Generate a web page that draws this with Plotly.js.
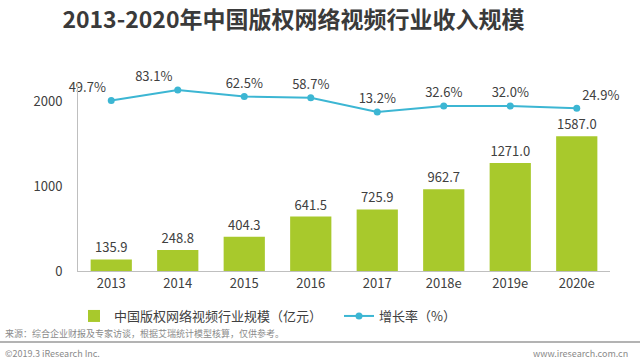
<!DOCTYPE html>
<html>
<head>
<meta charset="utf-8">
<script src="https://cdn.plot.ly/plotly-3.0.1.min.js"></script>
<style>html,body{margin:0;padding:0;background:#fff;}#chart{width:640px;height:363px;}</style>
</head>
<body>
<div id="chart"></div>
<script>
const categories = ['2013', '2014', '2015', '2016', '2017', '2018e', '2019e', '2020e'];
const revenue = [135.9, 248.8, 404.3, 641.5, 725.9, 962.7, 1271.0, 1587.0];
const growth = [49.7, 83.1, 62.5, 58.7, 13.2, 32.6, 32.0, 24.9];
const growthLabelPos = ['top left', 'top left', 'top center', 'top center', 'top center', 'top center', 'top center', 'top right'];

const FONT = '"Noto Sans CJK SC", "Noto Sans", sans-serif';
const TXT = '#404040';

const traces = [
  {
    type: 'bar',
    name: '中国版权网络视频行业规模（亿元）',
    x: categories,
    y: revenue,
    marker: {color: '#a8c92c'},
    text: revenue.map(v => v.toFixed(1)),
    textposition: 'outside',
    cliponaxis: false,
    textfont: {family: FONT, size: 13, color: TXT},
    hoverinfo: 'x+y'
  },
  {
    type: 'scatter',
    mode: 'lines+markers+text',
    name: '增长率（%）',
    x: categories,
    y: growth,
    yaxis: 'y2',
    line: {color: '#3cb6d3', width: 2},
    marker: {color: '#3cb6d3', size: 7},
    text: growth.map(v => v.toFixed(1) + '%'),
    textposition: growthLabelPos,
    cliponaxis: false,
    textfont: {family: FONT, size: 13, color: TXT}
  }
];

const layout = {
  width: 640,
  height: 363,
  margin: {l: 78, r: 30, t: 83, b: 92},
  paper_bgcolor: '#ffffff',
  plot_bgcolor: '#ffffff',
  font: {family: FONT, size: 13, color: TXT},
  showlegend: true,
  bargap: 0.38,
  title: {
    text: '<b>2013-2020年中国版权网络视频行业收入规模</b>',
    font: {family: FONT, size: 23, color: '#3a3a3a'},
    x: 0.405, xanchor: 'center', xref: 'paper',
    y: 1 - 20 / 363, yanchor: 'middle', yref: 'container'
  },
  xaxis: {
    type: 'category',
    showline: true, linecolor: '#bfbfbf', linewidth: 1,
    showgrid: false, zeroline: false,
    ticks: '',
    tickfont: {family: FONT, size: 13, color: TXT}
  },
  yaxis: {
    range: [0, 2215],
    tickvals: [0, 1000, 2000],
    showline: true, linecolor: '#bfbfbf', linewidth: 1,
    showgrid: false, zeroline: false,
    ticks: '',
    ticklabelstandoff: 12,
    tickfont: {family: FONT, size: 13, color: TXT}
  },
  yaxis2: {
    overlaying: 'y',
    side: 'right',
    range: [-492, 105.3],
    visible: false,
    showgrid: false, zeroline: false
  },
  legend: {
    orientation: 'h',
    xref: 'container', yref: 'container',
    x: 74 / 640, xanchor: 'left',
    y: 1 - 301 / 363, yanchor: 'top',
    entrywidth: 220, entrywidthmode: 'pixels',
    itemwidth: 30,
    font: {family: FONT, size: 13, color: TXT},
    bgcolor: 'rgba(0,0,0,0)'
  },
  shapes: [
    {type: 'line', xref: 'paper', yref: 'paper', x0: -78 / 532, x1: 1 + 30 / 532,
     y0: -(342 - 271) / 188, y1: -(342 - 271) / 188,
     line: {color: '#9a9a9a', width: 1.5}}
  ],
  annotations: [
    {text: '来源：综合企业财报及专家访谈，根据艾瑞统计模型核算，仅供参考。', xref: 'paper', yref: 'paper',
     x: -75 / 532, y: -(333 - 271) / 188, xanchor: 'left', yanchor: 'middle', showarrow: false,
     font: {family: FONT, size: 9, color: '#8a8a8a'}},
    {text: '©2019.3 iResearch Inc.', xref: 'paper', yref: 'paper',
     x: -75 / 532, y: -(353 - 271) / 188, xanchor: 'left', yanchor: 'middle', showarrow: false,
     font: {family: FONT, size: 9, color: '#8a8a8a'}},
    {text: 'www.iresearch.com.cn', xref: 'paper', yref: 'paper',
     x: 1 + 20 / 532, y: -(353 - 271) / 188, xanchor: 'right', yanchor: 'middle', showarrow: false,
     font: {family: FONT, size: 9, color: '#8a8a8a'}}
  ]
};

Plotly.newPlot('chart', traces, layout, {displayModeBar: false, staticPlot: true});
</script>
</body>
</html>
